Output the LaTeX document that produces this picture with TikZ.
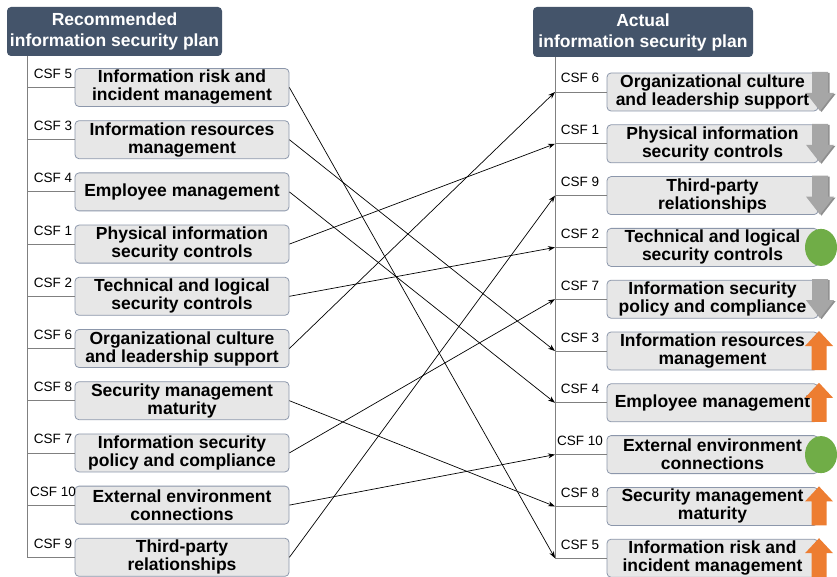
\documentclass[tikz,border=0pt]{standalone}
\usepackage{fontspec}
\setmainfont{Liberation Sans}
\usetikzlibrary{arrows.meta}
\definecolor{headfill}{HTML}{44546A}
\definecolor{boxfill}{HTML}{E7E7E7}
\definecolor{boxedge}{HTML}{8C97AB}
\definecolor{treeline}{HTML}{808080}
\definecolor{upfill}{HTML}{ED7D31}
\definecolor{downfill}{HTML}{A6A6A6}
\definecolor{downshade}{HTML}{8E8E8E}
\definecolor{okfill}{HTML}{70AD47}

\begin{document}
\begin{tikzpicture}[x=1pt,y=-1pt,
  header/.style={rectangle, rounded corners=4pt, fill=headfill, text=white,
    font=\fontsize{17.5}{21}\selectfont\bfseries, align=center, inner sep=0pt},
  csfbox/.style={rectangle, rounded corners=4pt, draw=boxedge, line width=0.8pt,
    fill=boxfill, font=\fontsize{17.5}{18}\selectfont\bfseries, align=center,
    inner sep=0pt, minimum height=38pt},
  csflabel/.style={font=\fontsize{13.5}{14}\selectfont, anchor=base, inner sep=0pt},
  tree/.style={draw=treeline, line width=0.8pt},
  link/.style={draw=black, line width=0.7pt, -{Stealth[length=7pt,width=5pt]}},
]
\useasboundingbox (0,0) rectangle (837,577);

% plan headers
\node[header, minimum width=215pt, minimum height=49pt] (hl) at (114.5,31.5)
  {Recommended\\information security plan};
\node[header, minimum width=220pt, minimum height=50pt] (hr) at (643,32)
  {Actual\\information security plan};

% recommended plan items
\foreach \i/\csf/\txt in {
  1/5/{Information risk and\\incident management},
  2/3/{Information resources\\management},
  3/4/{Employee management},
  4/1/{Physical information\\security controls},
  5/2/{Technical and logical\\security controls},
  6/6/{Organizational culture\\and leadership support},
  7/8/{Security management\\maturity},
  8/7/{Information security\\policy and compliance},
  9/10/{External environment\\connections},
  10/9/{Third-party\\relationships}}{
  \pgfmathsetmacro\yy{87.5+52.2*(\i-1)}
  \coordinate (JL\i) at (27,\yy);
  \node[csfbox, minimum width=214pt] (L\i) at (182,\yy) {\txt};
  \node[csflabel] at (53,\yy-9) {CSF \csf};
  \draw[tree] (JL\i) -- (L\i.west);
}
\draw[tree] (hl.south -| JL1) -- (JL10);

% actual plan items
\foreach \i/\csf/\txt in {
  1/6/{Organizational culture\\and leadership support},
  2/1/{Physical information\\security controls},
  3/9/{Third-party\\relationships},
  4/2/{Technical and logical\\security controls},
  5/7/{Information security\\policy and compliance},
  6/3/{Information resources\\management},
  7/4/{Employee management},
  8/10/{External environment\\connections},
  9/8/{Security management\\maturity},
  10/5/{Information risk and\\incident management}}{
  \pgfmathsetmacro\yy{92+51.8*(\i-1)}
  \coordinate (JR\i) at (555,\yy);
  \node[csfbox, minimum width=211pt] (R\i) at (712.5,\yy) {\txt};
  \node[csflabel] at (580,\yy-9) {CSF \csf};
  \draw[tree] (JR\i) -- (R\i.west);
}
\draw[tree] (hr.south -| JR1) -- (JR10);

% rank changes between the two plans
\foreach \a/\b in {1/10,2/6,3/7,4/2,5/4,6/1,7/9,8/5,9/8,10/3}
  \draw[link] (L\a.east) -- (JR\b);

% trend markers: falling
\foreach \j in {1,2,3,5}{
  \pgfmathsetmacro\yy{92+51.8*(\j-1)}
  \fill[downshade] (813.5,\yy-19) -- (829.5,\yy-19) -- (829.5,\yy+2) -- (835.5,\yy+2)
    -- (821.5,\yy+20) -- (807.5,\yy+2) -- (813.5,\yy+2) -- cycle;
  \fill[downfill] (812,\yy-20) -- (828,\yy-20) -- (828,\yy+1) -- (834,\yy+1)
    -- (820,\yy+19) -- (806,\yy+1) -- (812,\yy+1) -- cycle;
}
% trend markers: rising
\foreach \j in {6,7,9,10}{
  \pgfmathsetmacro\yy{92+51.8*(\j-1)}
  \fill[upfill] (819,\yy-20) -- (833,\yy-5) -- (826.5,\yy-5) -- (826.5,\yy+19)
    -- (811.5,\yy+19) -- (811.5,\yy-5) -- (805,\yy-5) -- cycle;
}
% trend markers: unchanged
\foreach \j in {4,8}{
  \pgfmathsetmacro\yy{92+51.8*(\j-1)}
  \fill[okfill] (821,\yy) ellipse [x radius=16pt, y radius=18.5pt];
}
\end{tikzpicture}
\end{document}
